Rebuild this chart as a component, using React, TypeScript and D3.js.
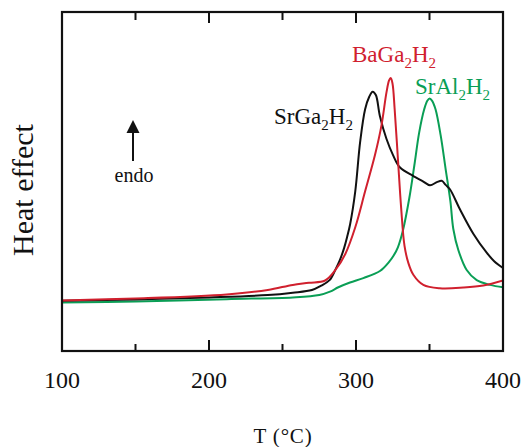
import React from "react";
import * as d3 from "d3";

const xTicksMajor = [100, 200, 300, 400];
const xTicksMinor = [150, 250, 350];

const srGa2H2: [number, number][] = [
  [100, 14.8], [150, 15.2], [200, 15.8], [240, 16.5], [257, 17.2], [270, 18.0], [276, 19.2],
  [282, 20.9], [286, 24.0], [289, 26.8], [292, 30.5], [294, 33.7], [296, 37.4], [299.5, 47.1],
  [302.8, 61.6], [306.2, 71.3], [309, 75], [311.3, 76.5], [313.5, 75.5], [316.2, 69.4],
  [320.7, 62.6], [325.2, 57.8], [329.8, 54.2], [339, 51.6], [345, 50.2], [350.3, 48.9],
  [355, 49.8], [358.3, 50.2], [361, 49], [363.9, 47.7], [370.7, 41.8], [379.8, 34.6],
  [388.9, 29], [394, 26.5], [400, 24.5],
];

const baGa2H2: [number, number][] = [
  [100, 14.9], [150, 15.5], [212, 16.7], [240, 18.0], [257, 19.5], [268, 20.1], [279, 20.8],
  [286, 23.9], [292.8, 28.7], [299.5, 36.5], [306.2, 47.1], [312.9, 57.8], [317.3, 66.5],
  [320.7, 76.2], [322.5, 79.8], [323.6, 80.5], [324.8, 79], [326.3, 71.3], [328.5, 56.8],
  [330.7, 42.3], [333, 31], [335.6, 26], [339, 22.5], [345.8, 19.5], [357, 18.5],
  [373, 18.7], [386.6, 19.3], [400, 20.8],
];

const srAl2H2: [number, number][] = [
  [100, 14.3], [150, 14.6], [212, 15.3], [257, 15.8], [275, 16.5], [282.3, 17.5], [288, 18.8],
  [295.9, 20.2], [305, 21.5], [316.3, 23.6], [322.9, 26.5], [325.4, 28], [328.5, 30.6],
  [332, 35.7], [336.3, 45.2], [339.7, 54.8], [343, 64.5], [346.4, 71.3], [348.5, 73.8],
  [350.1, 74.5], [351.8, 73.8], [354.1, 71.3], [357.6, 63.6], [360.9, 53.9], [364.2, 44.2],
  [366.2, 36], [369.6, 29.8], [375.3, 23.9], [382.1, 20.9], [391.2, 19.5], [400, 18.8],
];

const RED = "#d0202e";
const GREEN = "#0a9e55";
const BLACK = "#111111";
const FONT = "'Liberation Serif', 'Times New Roman', serif";

export default function App() {
  const left = 62, right = 503, top = 12, bottom = 351;
  const x = d3.scaleLinear().domain([100, 400]).range([left, right]);
  const y = d3.scaleLinear().domain([0, 100]).range([bottom, top]);
  const line = d3
    .line<[number, number]>()
    .x((d) => x(d[0]))
    .y((d) => y(d[1]))
    .curve(d3.curveCatmullRom.alpha(0.5));

  const series = [
    { data: srAl2H2, color: GREEN },
    { data: srGa2H2, color: BLACK },
    { data: baGa2H2, color: RED },
  ];

  return (
    <svg
      width={524}
      height={447}
      style={{ position: "absolute", left: 0, top: 0, background: "#fff" }}
      fontFamily={FONT}
    >
      <defs>
        <clipPath id="plot">
          <rect x={left} y={top} width={right - left} height={bottom - top} />
        </clipPath>
      </defs>
      <g clipPath="url(#plot)">
        {series.map((s, i) => (
          <path key={i} d={line(s.data) || ""} fill="none" stroke={s.color} strokeWidth={2} />
        ))}
      </g>
      <rect x={left} y={top} width={right - left} height={bottom - top} fill="none" stroke="#111" strokeWidth={2.2} />
      {xTicksMajor.map((t) => (
        <g key={"M" + t}>
          <line x1={x(t)} x2={x(t)} y1={bottom} y2={bottom - 11} stroke="#111" strokeWidth={2} />
          <line x1={x(t)} x2={x(t)} y1={top} y2={top + 11} stroke="#111" strokeWidth={2} />
          <text x={x(t)} y={388} textAnchor="middle" fontSize={24} fill="#111">
            {t}
          </text>
        </g>
      ))}
      {xTicksMinor.map((t) => (
        <g key={"m" + t}>
          <line x1={x(t)} x2={x(t)} y1={bottom} y2={bottom - 7} stroke="#111" strokeWidth={2} />
          <line x1={x(t)} x2={x(t)} y1={top} y2={top + 8} stroke="#111" strokeWidth={2} />
        </g>
      ))}
      <text x={283} y={443} textAnchor="middle" fontSize={21} fill="#111" letterSpacing={0.8}>
        T (°C)
      </text>
      <text
        transform="translate(33,190) rotate(-90)"
        textAnchor="middle"
        fontSize={30}
        fill="#111"
      >
        Heat effect
      </text>
      {/* endo arrow */}
      <line x1={133} x2={133} y1={161} y2={130} stroke="#111" strokeWidth={2} />
      <path d="M133,120 L126.5,133 L139.5,133 Z" fill="#111" />
      <text x={134} y={182} textAnchor="middle" fontSize={20} fill="#111">
        endo
      </text>
      {/* labels */}
      <text x={352} y={62} fontSize={23} fill={RED}>
        BaGa<tspan fontSize={15} dy={6}>2</tspan>
        <tspan dy={-6}>H</tspan>
        <tspan fontSize={15} dy={6}>2</tspan>
      </text>
      <text x={415} y={94} fontSize={23} fill={GREEN}>
        SrAl<tspan fontSize={15} dy={6}>2</tspan>
        <tspan dy={-6}>H</tspan>
        <tspan fontSize={15} dy={6}>2</tspan>
      </text>
      <text x={274} y={124} fontSize={23} fill={BLACK}>
        SrGa<tspan fontSize={15} dy={6}>2</tspan>
        <tspan dy={-6}>H</tspan>
        <tspan fontSize={15} dy={6}>2</tspan>
      </text>
    </svg>
  );
}
